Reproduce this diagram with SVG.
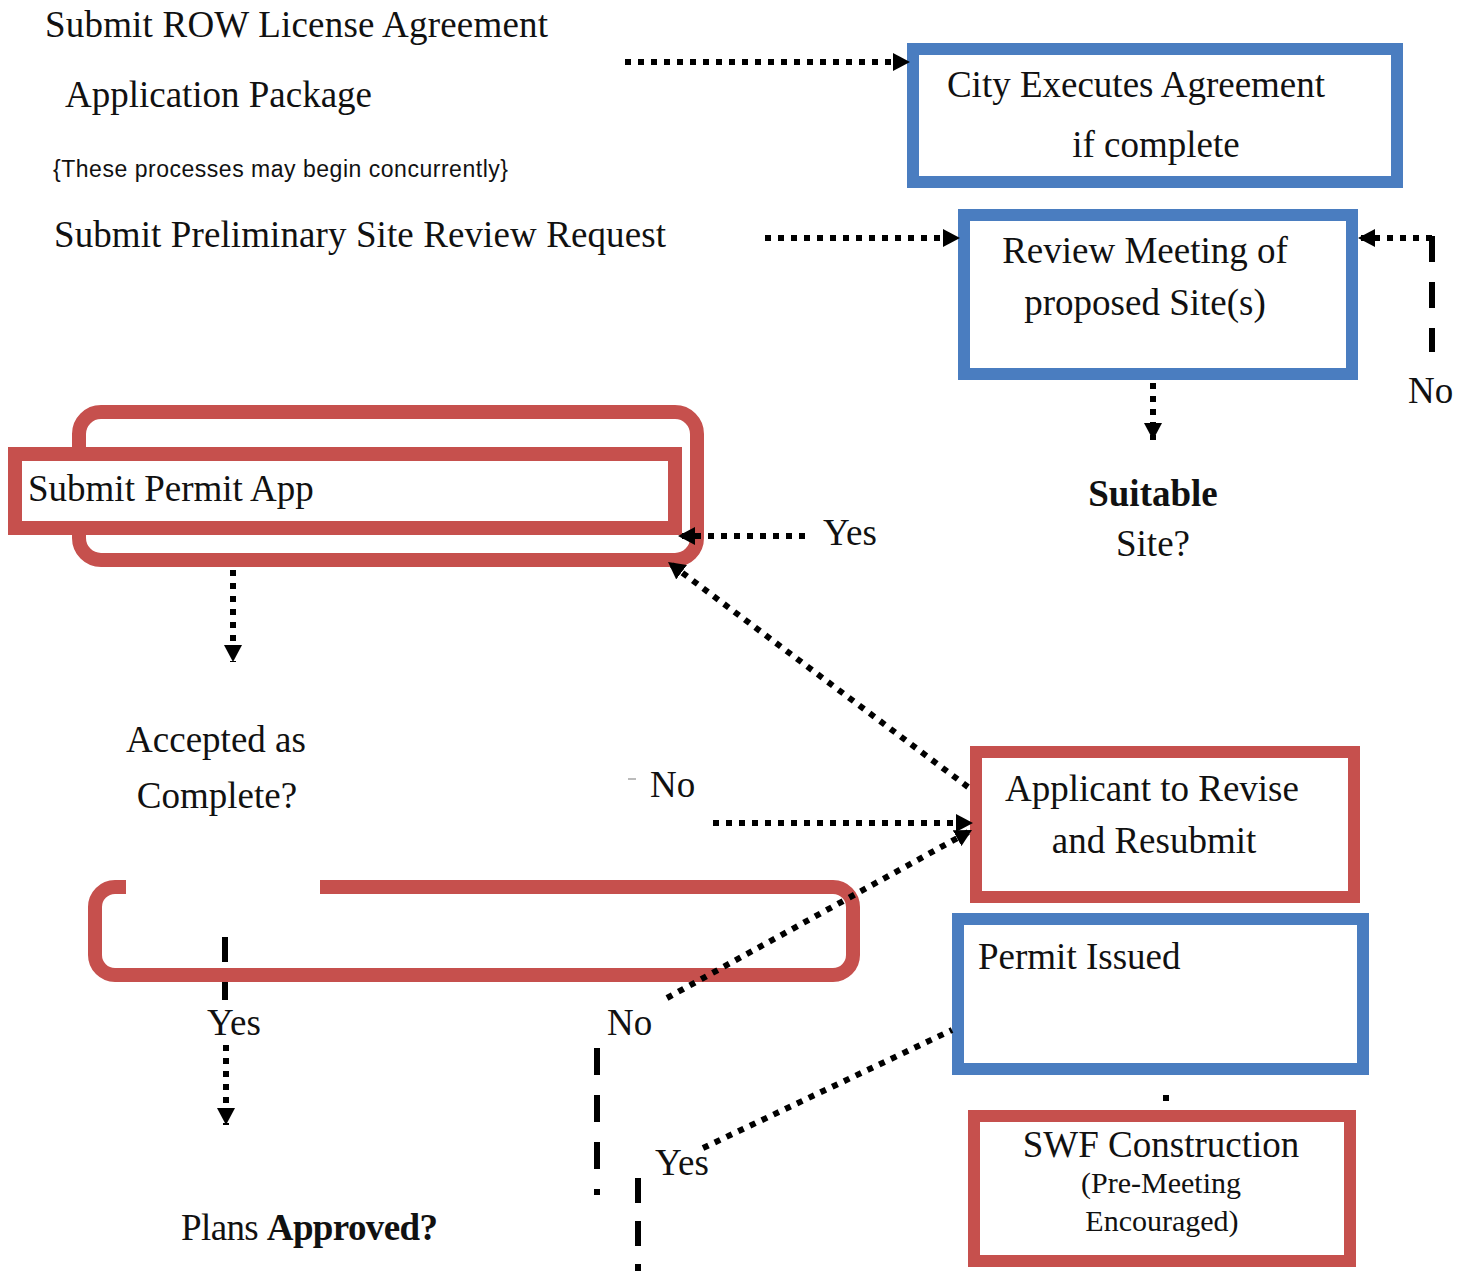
<svg xmlns="http://www.w3.org/2000/svg" width="1468" height="1271" viewBox="0 0 1468 1271">
<style>
  .t { font-family: "Liberation Serif", "Times New Roman", serif; font-size: 37px; fill: #111; }
  .c { text-anchor: middle; }
  .b { font-weight: bold; }
  .s { font-family: "Liberation Sans", Arial, sans-serif; font-size: 23px; fill: #111; }
  .blue { fill: #fff; stroke: #4a7dc0; stroke-width: 12; }
  .red { fill: #fff; stroke: #c6504d; stroke-width: 12; }
  .redr { fill: none; stroke: #c6504d; stroke-width: 14; }
  .dot { stroke: #000; stroke-width: 6; stroke-dasharray: 6 7; fill: none; }
  .dash { stroke: #000; stroke-width: 6; stroke-dasharray: 26 20; fill: none; }
</style>
<defs>
  <marker id="ah" markerUnits="userSpaceOnUse" markerWidth="20" markerHeight="18" refX="17" refY="9" orient="auto">
    <path d="M0,0 L17,9 L0,18 z" fill="#000"/>
  </marker>
</defs>
<rect width="1468" height="1271" fill="#fff"/>

<g id="intro-text">
  <text class="t" x="45" y="37" textLength="503">Submit ROW License Agreement</text>
  <text class="t" x="65" y="107" textLength="307">Application Package</text>
  <text class="s" x="53" y="177" textLength="455">{These processes may begin concurrently}</text>
  <text class="t" x="54" y="247" textLength="612">Submit Preliminary Site Review Request</text>
</g>

<g id="node-city">
  <rect class="blue" x="913" y="49" width="484" height="133"/>
  <text class="t c" x="1136" y="97">City Executes Agreement</text>
  <text class="t c" x="1156" y="157">if complete</text>
</g>

<g id="node-review">
  <rect class="blue" x="964" y="215" width="388" height="159"/>
  <text class="t c" x="1145" y="263">Review Meeting of</text>
  <text class="t c" x="1145" y="315">proposed Site(s)</text>
</g>

<g id="node-suitable">
  <text class="t c b" x="1153" y="506">Suitable</text>
  <text class="t c" x="1153" y="556">Site?</text>
</g>

<g id="node-permit-app">
  <rect class="redr" x="79" y="412" width="618" height="148" rx="22"/>
  <rect class="red" x="15" y="454" width="660" height="74" style="stroke-width:14"/>
  <text class="t" x="28" y="501">Submit Permit App</text>
</g>

<g id="node-accepted">
  <text class="t c" x="216" y="752">Accepted as</text>
  <text class="t c" x="217" y="808">Complete?</text>
</g>

<g id="node-revise">
  <rect class="red" x="976" y="752" width="378" height="145"/>
  <text class="t c" x="1152" y="801">Applicant to Revise</text>
  <text class="t c" x="1154" y="853">and Resubmit</text>
</g>

<g id="node-plans-frame">
  <path class="redr" d="M320,887 H833 A20,20 0 0 1 853,907 V955 A20,20 0 0 1 833,975 H115 A20,20 0 0 1 95,955 V907 A20,20 0 0 1 115,887 H126"/>
</g>

<g id="node-permit-issued">
  <rect class="blue" x="958" y="919" width="405" height="150"/>
  <text class="t" x="978" y="969">Permit Issued</text>
</g>

<g id="node-swf">
  <rect class="red" x="974" y="1116" width="376" height="145"/>
  <text class="t c" x="1161" y="1157">SWF Construction</text>
  <text class="t c" x="1161" y="1193" style="font-size:30px">(Pre-Meeting</text>
  <text class="t c" x="1162" y="1231" style="font-size:30px">Encouraged)</text>
</g>

<g id="node-plans-approved">
  <text class="t" x="181" y="1240" textLength="257">Plans <tspan class="b">Approved?</tspan></text>
</g>

<g id="connectors">
  <line class="dot" x1="625" y1="62" x2="910" y2="62" marker-end="url(#ah)"/>
  <line class="dot" x1="765" y1="238" x2="960" y2="238" marker-end="url(#ah)"/>
  <line class="dash" x1="1432" y1="236" x2="1432" y2="352"/>
  <line class="dot" x1="1432" y1="238" x2="1358" y2="238" marker-end="url(#ah)"/>
  <line class="dot" x1="1153" y1="383" x2="1153" y2="440" marker-end="url(#ah)"/>
  <line class="dot" x1="805" y1="536" x2="678" y2="536" marker-end="url(#ah)"/>
  <line class="dot" x1="968" y1="787" x2="668" y2="562" marker-end="url(#ah)"/>
  <line class="dot" x1="233" y1="570" x2="233" y2="662" marker-end="url(#ah)"/>
  <line x1="628" y1="779" x2="636" y2="779" stroke="#bbb" stroke-width="2"/>
  <line class="dot" x1="713" y1="823" x2="973" y2="823" marker-end="url(#ah)"/>
  <line class="dot" x1="667" y1="998" x2="972" y2="830" marker-end="url(#ah)"/>
  <line class="dash" x1="225" y1="937" x2="225" y2="1000" style="stroke-dasharray:25 20"/>
  <line class="dot" x1="226" y1="1045" x2="226" y2="1125" marker-end="url(#ah)"/>
  <line class="dash" x1="597" y1="1048" x2="597" y2="1195" style="stroke-dasharray:27 20"/>
  <line class="dash" x1="638" y1="1178" x2="638" y2="1271" style="stroke-dasharray:25 18"/>
  <line class="dot" x1="703" y1="1148" x2="952" y2="1030"/>
  <rect x="1163" y="1095" width="6" height="6" fill="#000"/>
</g>

<g id="labels">
  <text class="t" x="1408" y="403">No</text>
  <text class="t" x="823" y="545">Yes</text>
  <text class="t" x="650" y="797">No</text>
  <text class="t" x="207" y="1035">Yes</text>
  <text class="t" x="607" y="1035">No</text>
  <text class="t" x="655" y="1175">Yes</text>
</g>
</svg>
